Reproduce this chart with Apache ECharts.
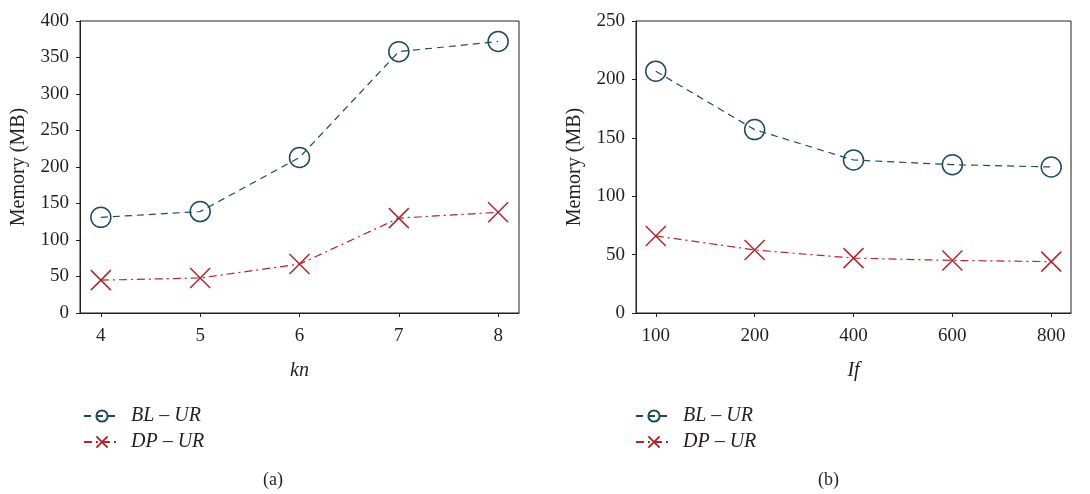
<!DOCTYPE html>
<html>
<head>
<meta charset="utf-8">
<script src="https://cdn.jsdelivr.net/npm/echarts@6/dist/echarts.min.js"></script>
<style>
  html, body { margin: 0; padding: 0; background: #fff; }
  #chart { width: 1090px; height: 494px; }
</style>
</head>
<body>
<div id="chart"></div>
<script>
// panel (a): memory vs kn
const knValues = [4, 5, 6, 7, 8];
const blA = [131, 139, 213, 358, 372];
const dpA = [45, 48, 67, 130, 138];

// panel (b): memory vs If
const lfLabels = ['100', '200', '400', '600', '800'];
const blB = [207, 157, 131, 127, 125];
const dpB = [66, 54, 47, 45, 44];

const blColor = '#1f4b5c';
const dpColor = '#b3262d';
const font = 'Liberation Serif';
const ink = '#231f20';
const crossPath = 'path://M0,0L10,10M10,0L0,10';

const chart = echarts.init(document.getElementById('chart'));

function yAxis(idx, max) {
  return {
    type: 'value', gridIndex: idx, min: 0, max: max, interval: 50,
    name: 'Memory (MB)', nameLocation: 'middle', nameGap: 51,
    nameTextStyle: { fontFamily: font, fontSize: 20, color: ink },
    axisLine: { show: true, onZero: false, lineStyle: { color: ink } },
    axisTick: { show: true, inside: false, length: 4, lineStyle: { color: ink } },
    axisLabel: { fontFamily: font, fontSize: 19, color: ink, margin: 11 },
    splitLine: { show: false }
  };
}

function xAxis(idx, min, max, ticks, name, fmt) {
  return {
    type: 'value', gridIndex: idx, min: min, max: max,
    name: name, nameLocation: 'middle', nameGap: 48,
    nameTextStyle: { fontFamily: font, fontSize: 20, fontStyle: 'italic', color: ink },
    axisLine: { show: true, onZero: false, lineStyle: { color: ink } },
    axisTick: { show: true, length: 4, customValues: ticks, lineStyle: { color: ink } },
    axisLabel: { fontFamily: font, fontSize: 19, color: ink, margin: 14,
                 customValues: ticks, formatter: fmt },
    splitLine: { show: false }
  };
}

function blSeries(idx, data) {
  return {
    name: 'BL – UR', type: 'line', xAxisIndex: idx, yAxisIndex: idx,
    data: data, symbol: 'circle', symbolSize: 20,
    lineStyle: { color: blColor, width: 1.2, type: [7, 5] },
    itemStyle: { color: 'rgba(0,0,0,0)', borderColor: blColor, borderWidth: 1.5 },
    emphasis: { disabled: true }
  };
}

function dpSeries(idx, data) {
  return {
    name: 'DP – UR', type: 'line', xAxisIndex: idx, yAxisIndex: idx,
    data: data, symbol: crossPath, symbolSize: 20,
    lineStyle: { color: dpColor, width: 1.2, type: [8, 4, 2, 4] },
    itemStyle: { color: 'none', borderColor: dpColor, borderWidth: 1.5 },
    emphasis: { disabled: true }
  };
}

const legendStyle = {
  orient: 'vertical', top: 401, itemWidth: 36, itemHeight: 14, itemGap: 6,
  textStyle: { fontFamily: font, fontSize: 20, fontStyle: 'italic', color: ink, padding: [0, 0, 0, 6] },
  data: ['BL – UR', 'DP – UR'], selectedMode: false
};

chart.setOption({
  animation: false,
  backgroundColor: '#fff',
  title: [
    { text: '(a)', left: 258, top: 466, textStyle: { fontFamily: font, fontSize: 18, fontWeight: 'normal', color: ink } },
    { text: '(b)', left: 813, top: 466, textStyle: { fontFamily: font, fontSize: 18, fontWeight: 'normal', color: ink } }
  ],
  legend: [
    Object.assign({ left: 78 }, legendStyle),
    Object.assign({ left: 630 }, legendStyle)
  ],
  grid: [
    { left: 80, top: 21, width: 439, height: 292, show: true, borderColor: ink, borderWidth: 1 },
    { left: 636, top: 21, width: 435, height: 292, show: true, borderColor: ink, borderWidth: 1 }
  ],
  xAxis: [
    xAxis(0, 3.79, 8.21, knValues, 'kn', v => String(v)),
    xAxis(1, -0.2, 4.2, lfLabels.map((_, i) => i), 'If', v => lfLabels[Math.round(v)])
  ],
  yAxis: [yAxis(0, 400), yAxis(1, 250)],
  series: [
    blSeries(0, knValues.map((k, i) => [k, blA[i]])),
    dpSeries(0, knValues.map((k, i) => [k, dpA[i]])),
    blSeries(1, lfLabels.map((_, i) => [i, blB[i]])),
    dpSeries(1, lfLabels.map((_, i) => [i, dpB[i]]))
  ]
});
</script>
</body>
</html>
